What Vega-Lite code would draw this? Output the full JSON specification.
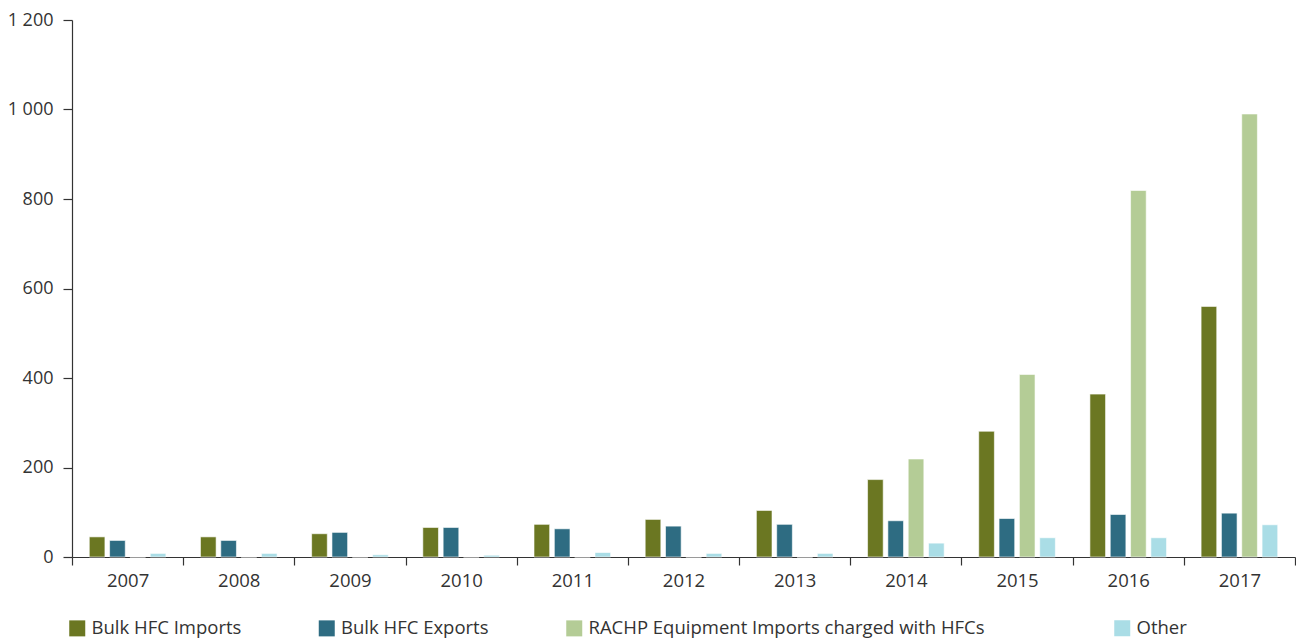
{
  "$schema": "https://vega.github.io/schema/vega-lite/v6.json",
  "autosize": {"type": "none"},
  "width": 1223,
  "height": 537,
  "padding": {"left": 72, "top": 20, "right": 1, "bottom": 83},
  "background": "#ffffff",
  "config": {
    "view": {"stroke": null},
    "font": "Open Sans",
    "axis": {"labelFont": "Open Sans", "labelColor": "#333333", "domainColor": "#333333", "tickColor": "#333333", "grid": false, "title": null}
  },
  "data": {
    "values": [
      {"year": "2007", "series": "Bulk HFC Imports", "value": 45},
      {"year": "2007", "series": "Bulk HFC Exports", "value": 37},
      {"year": "2007", "series": "RACHP Equipment Imports charged with HFCs", "value": 0},
      {"year": "2007", "series": "Other", "value": 8},
      {"year": "2008", "series": "Bulk HFC Imports", "value": 45},
      {"year": "2008", "series": "Bulk HFC Exports", "value": 37},
      {"year": "2008", "series": "RACHP Equipment Imports charged with HFCs", "value": 0},
      {"year": "2008", "series": "Other", "value": 8},
      {"year": "2009", "series": "Bulk HFC Imports", "value": 52},
      {"year": "2009", "series": "Bulk HFC Exports", "value": 55},
      {"year": "2009", "series": "RACHP Equipment Imports charged with HFCs", "value": 0},
      {"year": "2009", "series": "Other", "value": 5},
      {"year": "2010", "series": "Bulk HFC Imports", "value": 66},
      {"year": "2010", "series": "Bulk HFC Exports", "value": 66},
      {"year": "2010", "series": "RACHP Equipment Imports charged with HFCs", "value": 0},
      {"year": "2010", "series": "Other", "value": 4},
      {"year": "2011", "series": "Bulk HFC Imports", "value": 73},
      {"year": "2011", "series": "Bulk HFC Exports", "value": 63},
      {"year": "2011", "series": "RACHP Equipment Imports charged with HFCs", "value": 0},
      {"year": "2011", "series": "Other", "value": 10},
      {"year": "2012", "series": "Bulk HFC Imports", "value": 84},
      {"year": "2012", "series": "Bulk HFC Exports", "value": 69},
      {"year": "2012", "series": "RACHP Equipment Imports charged with HFCs", "value": 0},
      {"year": "2012", "series": "Other", "value": 8},
      {"year": "2013", "series": "Bulk HFC Imports", "value": 104},
      {"year": "2013", "series": "Bulk HFC Exports", "value": 73},
      {"year": "2013", "series": "RACHP Equipment Imports charged with HFCs", "value": 0},
      {"year": "2013", "series": "Other", "value": 8},
      {"year": "2014", "series": "Bulk HFC Imports", "value": 173},
      {"year": "2014", "series": "Bulk HFC Exports", "value": 81},
      {"year": "2014", "series": "RACHP Equipment Imports charged with HFCs", "value": 219},
      {"year": "2014", "series": "Other", "value": 31},
      {"year": "2015", "series": "Bulk HFC Imports", "value": 281},
      {"year": "2015", "series": "Bulk HFC Exports", "value": 86},
      {"year": "2015", "series": "RACHP Equipment Imports charged with HFCs", "value": 408},
      {"year": "2015", "series": "Other", "value": 43},
      {"year": "2016", "series": "Bulk HFC Imports", "value": 364},
      {"year": "2016", "series": "Bulk HFC Exports", "value": 95},
      {"year": "2016", "series": "RACHP Equipment Imports charged with HFCs", "value": 819},
      {"year": "2016", "series": "Other", "value": 43},
      {"year": "2017", "series": "Bulk HFC Imports", "value": 560},
      {"year": "2017", "series": "Bulk HFC Exports", "value": 98},
      {"year": "2017", "series": "RACHP Equipment Imports charged with HFCs", "value": 990},
      {"year": "2017", "series": "Other", "value": 72}
    ]
  },
  "encoding": {
    "x": {
      "field": "year", "type": "nominal", "sort": null,
      "scale": {"paddingInner": 0, "paddingOuter": 0},
      "axis": {"labelAngle": 0, "tickBand": "extent", "tickSize": 8, "labelPadding": 6, "labelFontSize": 18.5, "domainWidth": 1.2, "tickWidth": 1.2}
    },
    "xOffset": {
      "field": "series", "type": "nominal",
      "scale": {"domain": ["Bulk HFC Imports", "Bulk HFC Exports", "RACHP Equipment Imports charged with HFCs", "Other"], "paddingInner": 0.23, "paddingOuter": 0.85}
    },
    "y": {
      "field": "value", "type": "quantitative",
      "scale": {"domain": [0, 1200], "nice": false},
      "axis": {"values": [0, 200, 400, 600, 800, 1000, 1200], "tickSize": 9, "labelPadding": 10, "labelFontSize": 18, "domainWidth": 1.2, "tickWidth": 1.2,
               "labelExpr": "replace(format(datum.value, ','), ',', ' ')"}
    }
  },
  "layer": [
    {
      "transform": [{"filter": "datum.series !== 'Other'"}],
      "mark": {"type": "bar", "stroke": "#ffffff", "strokeWidth": 0.6},
      "encoding": {
        "fill": {
          "field": "series", "type": "nominal",
          "scale": {
            "domain": ["Bulk HFC Imports", "Bulk HFC Exports", "RACHP Equipment Imports charged with HFCs"],
            "range": ["#6b7722", "#2e6c82", "#b4cc96"]
          },
          "legend": {
            "title": null, "orient": "none", "direction": "horizontal", "columns": 3,
            "legendX": -4, "legendY": 599,
            "symbolType": "square", "symbolSize": 256, "symbolStrokeWidth": 0,
            "labelFont": "Open Sans", "labelFontSize": 18.5, "labelColor": "#333333", "labelLimit": 600,
            "labelOffset": 5, "columnPadding": 75.5
          }
        }
      }
    },
    {
      "transform": [{"filter": "datum.series === 'Other'"}],
      "mark": {"type": "bar", "stroke": "#ffffff", "strokeWidth": 0.6},
      "encoding": {
        "color": {
          "field": "series", "type": "nominal",
          "scale": {"domain": ["Other"], "range": ["#aadde6"]},
          "legend": {
            "title": null, "orient": "none", "direction": "horizontal",
            "legendX": 1041, "legendY": 599,
            "symbolType": "square", "symbolSize": 256, "symbolStrokeWidth": 0,
            "labelFont": "Open Sans", "labelFontSize": 18.5, "labelColor": "#333333", "labelLimit": 600,
            "labelOffset": 5
          }
        }
      }
    }
  ]
}
